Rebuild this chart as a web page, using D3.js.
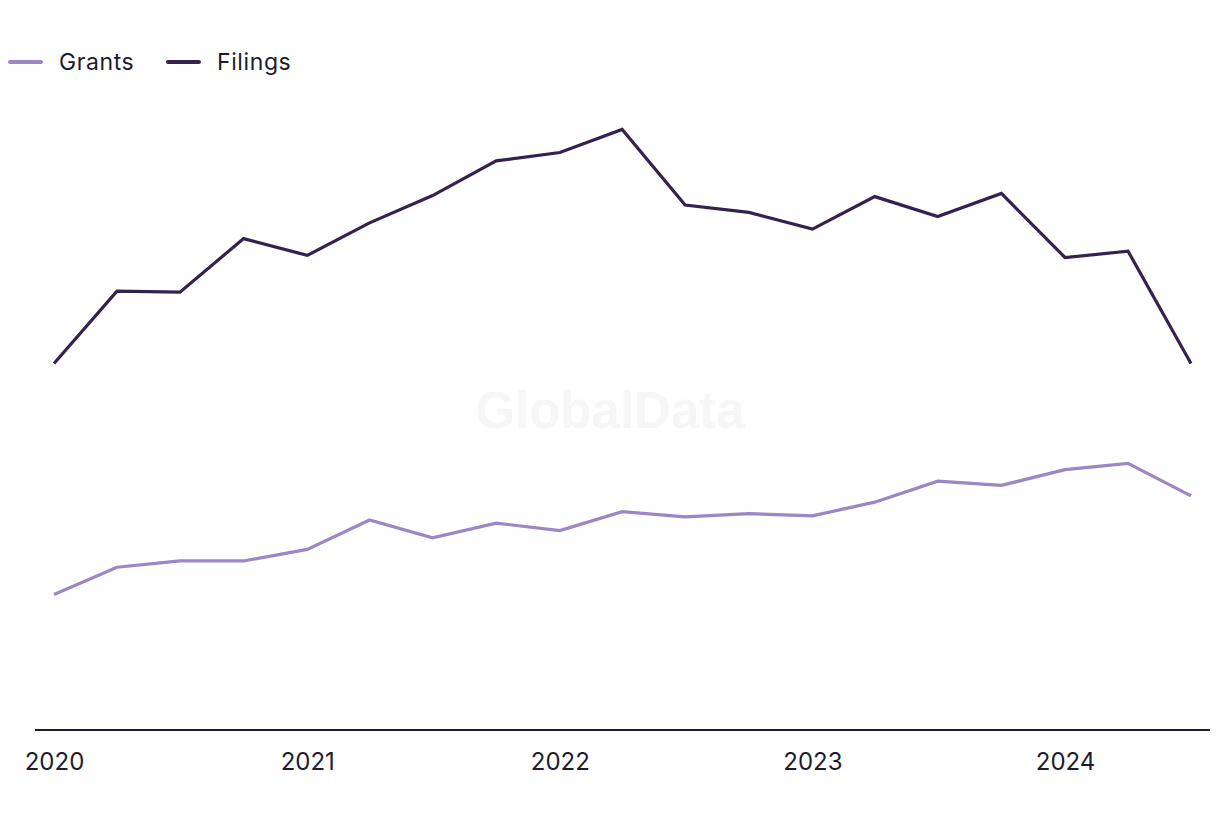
<!DOCTYPE html>
<html>
<head>
<meta charset="utf-8">
<script src="https://cdn.jsdelivr.net/npm/d3@7"></script>
<style>
  html, body { margin: 0; padding: 0; background: #fff; }
  svg { display: block; }
  text { font-family: Inter, "Noto Sans", sans-serif; fill: #1c1c2e; }
</style>
</head>
<body>
<svg id="chart" width="1220" height="820"></svg>
<script>
const quarters = ["2020-01-01","2020-04-01","2020-07-01","2020-10-01",
  "2021-01-01","2021-04-01","2021-07-01","2021-10-01",
  "2022-01-01","2022-04-01","2022-07-01","2022-10-01",
  "2023-01-01","2023-04-01","2023-07-01","2023-10-01",
  "2024-01-01","2024-04-01","2024-07-01"];
const filings = [349, 418, 417, 468, 452, 483, 509, 542, 550, 572, 500, 493, 477, 508, 489, 511, 450, 456, 349];
const grants  = [129, 155, 161, 161, 172, 200, 183, 197, 190, 208, 203, 206, 204, 217, 237, 233, 248, 254, 223];
const tickYears = ["2020", "2021", "2022", "2023", "2024"];
const seriesNames = ["Grants", "Filings"];
const colors = { Grants: "#9c86c5", Filings: "#35214f" };

const svg = d3.select("#chart");
const parse = d3.timeParse("%Y-%m-%d");
const dates = quarters.map(parse);

const x = d3.scaleTime()
  .domain([dates[0], dates[dates.length - 1]])
  .range([54, 1191]);
const y = d3.scaleLinear().domain([0, 600]).range([730, 100]);

// watermark
svg.append("text")
  .attr("x", 610).attr("y", 428)
  .attr("text-anchor", "middle")
  .style("font-family", "'Liberation Sans', Arial, sans-serif")
  .style("font-weight", "bold")
  .style("font-size", "51px")
  .style("fill", "#f6f6f6")
  .text("GlobalData");

// x axis
const axis = d3.axisBottom(x)
  .tickValues(tickYears.map(t => parse(t + "-01-01")))
  .tickFormat(d3.timeFormat("%Y"))
  .tickSize(0)
  .tickPadding(23);
const gx = svg.append("g").attr("transform", "translate(0,730)").call(axis);
gx.select(".domain").remove();
gx.selectAll("text")
  .style("font-family", "Inter, 'Noto Sans', sans-serif")
  .style("font-size", "24px")
  .style("fill", "#1c1c2e");
svg.append("line")
  .attr("x1", 35).attr("x2", 1210)
  .attr("y1", 730).attr("y2", 730)
  .attr("stroke", "#1c1c2e").attr("stroke-width", 2);

const line = d3.line().x((d, i) => x(dates[i])).y(d => y(d));

svg.append("path").datum(grants)
  .attr("fill", "none").attr("stroke", colors.Grants)
  .attr("stroke-width", 3.2).attr("stroke-linejoin", "miter")
  .attr("d", line);
svg.append("path").datum(filings)
  .attr("fill", "none").attr("stroke", colors.Filings)
  .attr("stroke-width", 3.2).attr("stroke-linejoin", "miter")
  .attr("d", line);

// legend
const legendX = [10, 168];
seriesNames.forEach((name, i) => {
  const g = svg.append("g").attr("transform", `translate(${legendX[i]},62)`);
  g.append("line").attr("x1", 0).attr("x2", 31).attr("y1", 0).attr("y2", 0)
    .attr("stroke", colors[name]).attr("stroke-width", 4).attr("stroke-linecap", "round");
  g.append("text").attr("x", 49).attr("y", 8)
    .style("font-size", "23px")
    .style("letter-spacing", "0.6px")
    .text(name);
});
</script>
</body>
</html>
